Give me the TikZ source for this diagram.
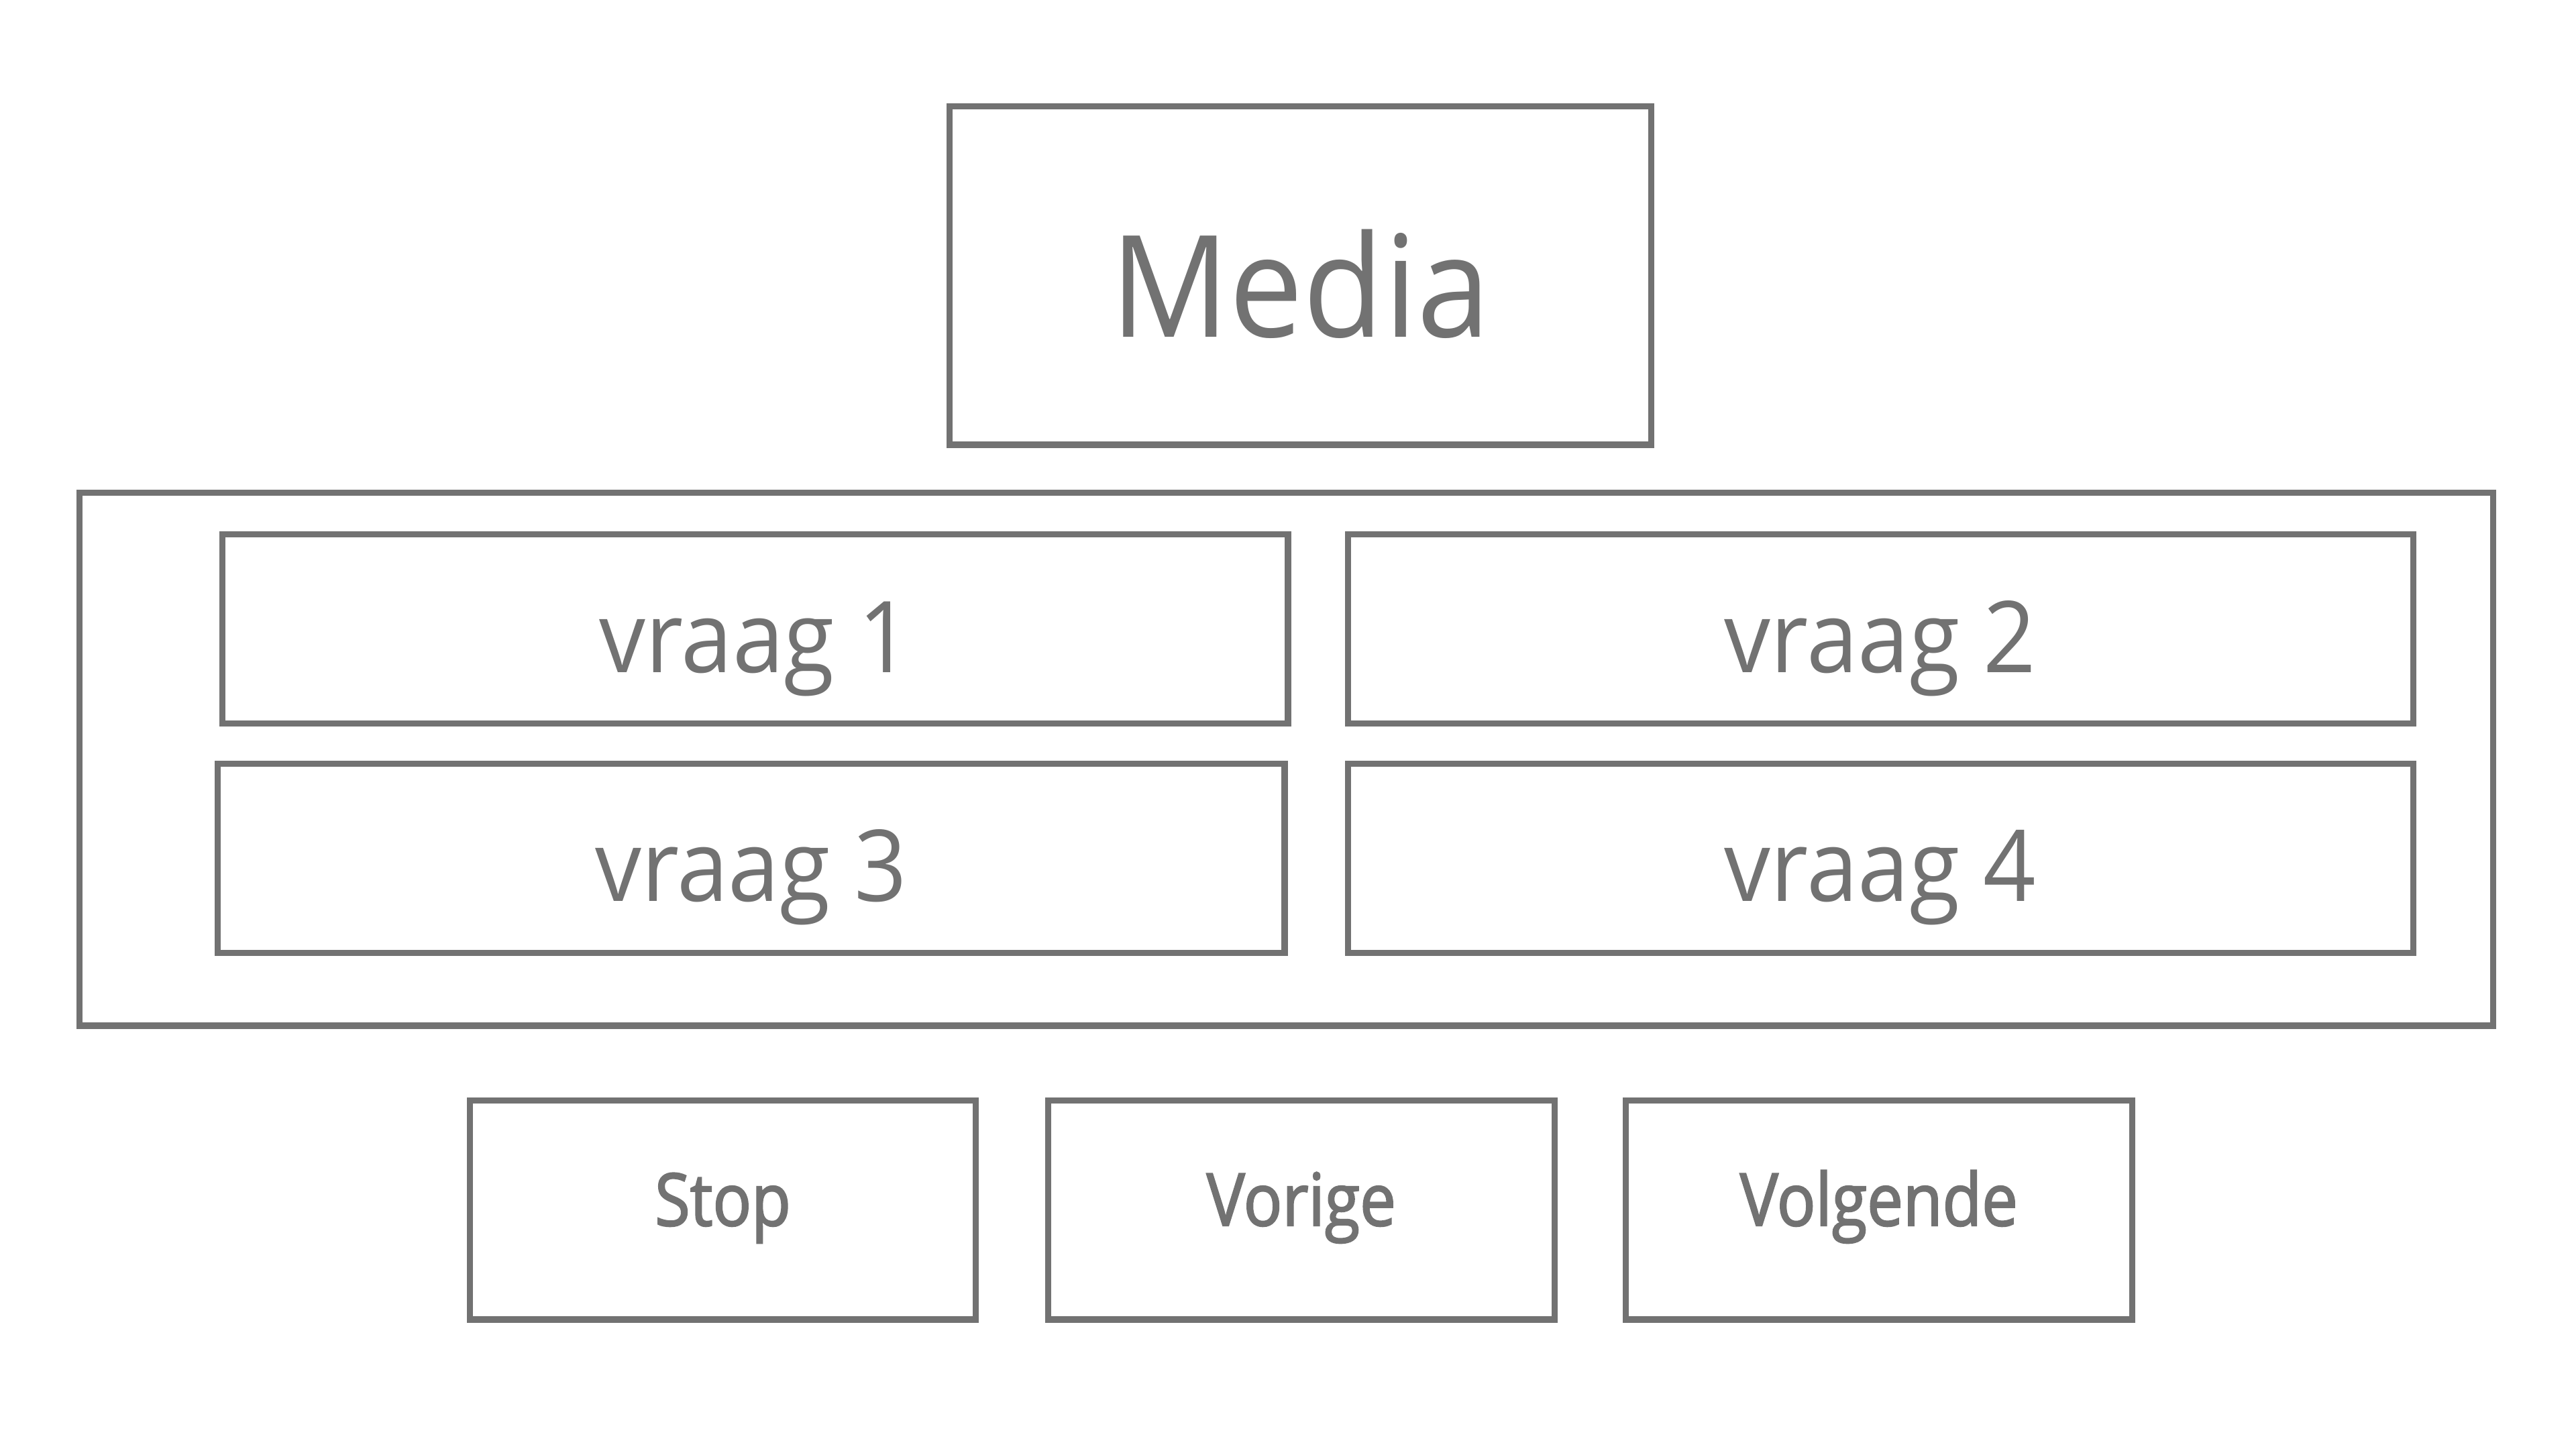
\documentclass[tikz,border=0pt]{standalone}
\usepackage{fontspec}
\setmainfont{Open Sans}[FakeStretch=0.93]
\newfontfamily\knopfont{Open Sans}[FakeStretch=0.88,FakeBold=2]
\usepackage{tikz}
\usetikzlibrary{positioning}
\definecolor{grijs}{RGB}{114,114,114}

\begin{document}
\begin{tikzpicture}[
    vak/.style={draw=grijs, line width=1.05pt, inner sep=0pt, text=grijs},
    media/.style={vak, minimum width=4.23cm, minimum height=2.04cm, font=\fontsize{24.3}{29}\selectfont, text height=0.74cm, text depth=0pt},
    vraag/.style={vak, minimum width=6.42cm, minimum height=1.14cm, font=\fontsize{17}{20}\selectfont, text height=0.52cm, text depth=0pt},
    knop/.style={vak, minimum width=3.05cm, minimum height=1.32cm, font=\knopfont\fontsize{12.5}{15}\selectfont, text height=0.19cm, text depth=0pt}]
            \useasboundingbox (0,0) rectangle (15.52,8.73);

            \node[media] (1) at (7.835,7.07) {Media};

            \node[vak, minimum width=14.54cm, minimum height=3.21cm] (0) at (7.75,4.155) {};
            \node[vraag] (2) at (4.55,4.94) {vraag 1};
            \node[vraag] (3) at (11.33,4.94) {vraag 2};
            \node[vraag, minimum width=6.43cm] (4) at (4.525,3.56) {vraag 3};
            \node[vraag] (5) at (11.33,3.56) {vraag 4};

            \node[knop] (6) at (4.355,1.44) {Stop};
            \node[knop] (7) at (7.84,1.44) {Vorige};
            \node[knop] (8) at (11.32,1.44) {Volgende};
          \end{tikzpicture}
\end{document}
